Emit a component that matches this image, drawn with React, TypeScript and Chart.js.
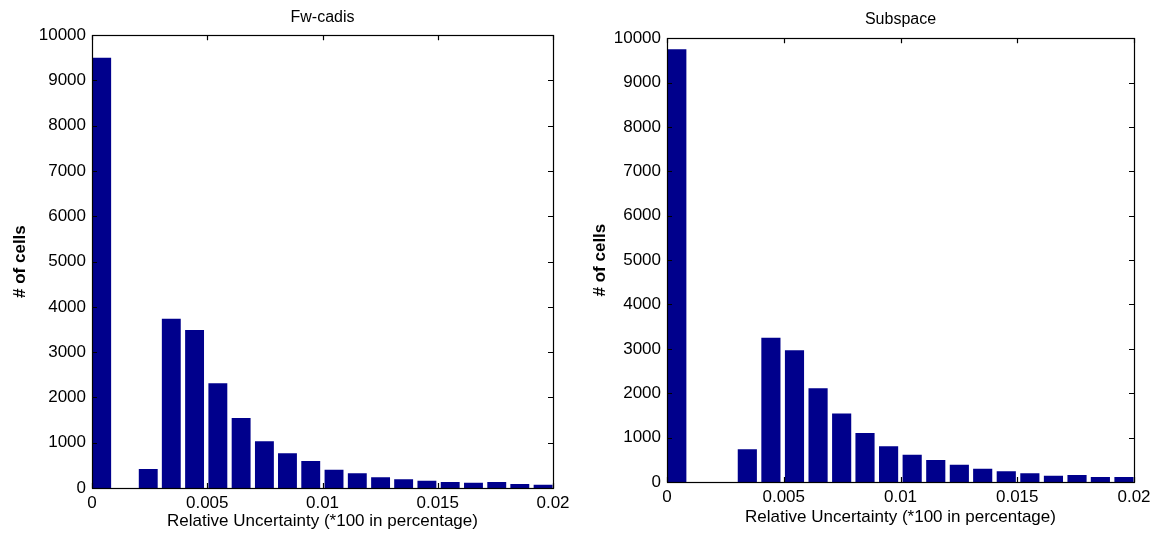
import React, { useEffect, useRef } from "react";
import { Chart, registerables } from "chart.js";

Chart.register(...registerables);

// Histogram bin centres (relative uncertainty)
const binCenters = [
  0.00042, 0.00143, 0.00244, 0.00344, 0.00445, 0.00546, 0.00647, 0.00748, 0.00848, 0.00949,
  0.0105, 0.01151, 0.01252, 0.01352, 0.01453, 0.01554, 0.01655, 0.01756, 0.01856, 0.01957,
];

// Number of cells per bin
const fwCadisCounts = [
  9500, 0, 420, 3740, 3490, 2315, 1545, 1035, 765, 595,
  405, 325, 240, 195, 160, 135, 115, 130, 90, 70,
];
const subspaceCounts = [
  9750, 0, 0, 740, 3250, 2970, 2110, 1545, 1105, 805,
  615, 495, 390, 300, 240, 195, 140, 155, 110, 110,
];

const xTicks = [0, 0.005, 0.01, 0.015, 0.02];
const yTicks = [0, 1000, 2000, 3000, 4000, 5000, 6000, 7000, 8000, 9000, 10000];

const titles = ["Fw-cadis", "Subspace"];
const xTitle = "Relative Uncertainty (*100 in percentage)";
const yTitle = "# of cells";

const FONT = '"Liberation Sans", Arial, Helvetica, sans-serif';
const BAR_COLOR = "#00008c";

const boxPlugin = {
  id: "matlabBox",
  afterDraw(chart: any) {
    const { ctx, chartArea } = chart;
    const { left, right, top, bottom } = chartArea;
    const xs = chart.scales.x;
    const ys = chart.scales.y;
    ctx.save();
    ctx.strokeStyle = "#000";
    ctx.lineWidth = 1.2;
    ctx.strokeRect(Math.round(left) + 0.5, Math.round(top) + 0.5, Math.round(right - left), Math.round(bottom - top));
    const L = 5;
    ctx.beginPath();
    for (const t of xs.ticks) {
      const px = Math.round(xs.getPixelForValue(t.value)) + 0.5;
      ctx.moveTo(px, bottom);
      ctx.lineTo(px, bottom - L);
      ctx.moveTo(px, top);
      ctx.lineTo(px, top + L);
    }
    for (const t of ys.ticks) {
      const py = Math.round(ys.getPixelForValue(t.value)) + 0.5;
      ctx.moveTo(left, py);
      ctx.lineTo(left + L, py);
      ctx.moveTo(right, py);
      ctx.lineTo(right - L, py);
    }
    ctx.stroke();
    ctx.restore();
  },
};

type PanelProps = {
  left: number;
  width: number;
  title: string;
  counts: number[];
  yAxisWidth: number;
  xAxisHeight: number;
  padRight: number;
  titlePadTop: number;
  titlePadBottom: number;
  xTitlePadBottom: number;
};

function Panel(p: PanelProps) {
  const ref = useRef<HTMLCanvasElement | null>(null);
  useEffect(() => {
    if (!ref.current) return;
    const chart = new Chart(ref.current, {
      type: "bar",
      data: {
        datasets: [
          {
            data: binCenters.map((x, i) => ({ x, y: p.counts[i] })),
            backgroundColor: BAR_COLOR,
            borderWidth: 0,
            categoryPercentage: 1,
            barPercentage: 0.82,
          } as any,
        ],
      },
      options: {
        responsive: false,
        animation: false,
        layout: { padding: { left: 0, top: 0, right: p.padRight, bottom: 0 } },
        plugins: {
          legend: { display: false },
          tooltip: { enabled: false },
          title: {
            display: true,
            text: p.title,
            fullSize: false,
            color: "#000",
            font: { family: FONT, size: 16, weight: "normal", lineHeight: 1.2 },
            padding: { top: p.titlePadTop, bottom: p.titlePadBottom },
          },
        },
        scales: {
          x: {
            type: "linear",
            min: 0,
            max: 0.02,
            offset: false,
            grid: { display: false, drawTicks: false, tickLength: 0 },
            border: { display: false },
            afterBuildTicks: (s: any) => {
              s.ticks = xTicks.map((v) => ({ value: v }));
            },
            ticks: {
              color: "#000",
              padding: 5,
              maxRotation: 0,
              autoSkip: false,
              font: { family: FONT, size: 17 },
              callback: (v: any) => String(Number(Number(v).toFixed(6))),
            },
            title: {
              display: true,
              text: xTitle,
              color: "#000",
              font: { family: FONT, size: 17, lineHeight: 1.2 },
              padding: { top: 0, bottom: p.xTitlePadBottom },
            },
            afterFit: (s: any) => {
              s.height = p.xAxisHeight;
            },
          },
          y: {
            type: "linear",
            min: 0,
            max: 10000,
            grid: { display: false, drawTicks: false, tickLength: 0 },
            border: { display: false },
            afterBuildTicks: (s: any) => {
              s.ticks = yTicks.map((v) => ({ value: v }));
            },
            ticks: {
              color: "#000",
              padding: 6,
              autoSkip: false,
              font: { family: FONT, size: 17 },
              callback: (v: any) => String(v),
            },
            title: {
              display: true,
              text: yTitle,
              color: "#000",
              font: { family: FONT, size: 17, weight: "bold", lineHeight: 1.2 },
              padding: { top: 10, bottom: 0 },
            },
            afterFit: (s: any) => {
              s.width = p.yAxisWidth;
            },
          },
        },
      } as any,
      plugins: [boxPlugin],
    });
    return () => chart.destroy();
  }, []);
  return (
    <canvas
      ref={ref}
      width={p.width}
      height={539}
      style={{ position: "absolute", left: p.left, top: 0, width: p.width, height: 539 }}
    />
  );
}

export default function App() {
  return (
    <div style={{ position: "absolute", left: 0, top: 0, width: 1163, height: 539, background: "#fff" }}>
      <Panel
        left={0}
        width={580}
        title={titles[0]}
        counts={fwCadisCounts}
        yAxisWidth={92}
        xAxisHeight={51}
        padRight={27}
        titlePadTop={8}
        titlePadBottom={8}
        xTitlePadBottom={7}
      />
      <Panel
        left={580}
        width={583}
        title={titles[1]}
        counts={subspaceCounts}
        yAxisWidth={87}
        xAxisHeight={57}
        padRight={29}
        titlePadTop={10}
        titlePadBottom={9}
        xTitlePadBottom={11}
      />
    </div>
  );
}
